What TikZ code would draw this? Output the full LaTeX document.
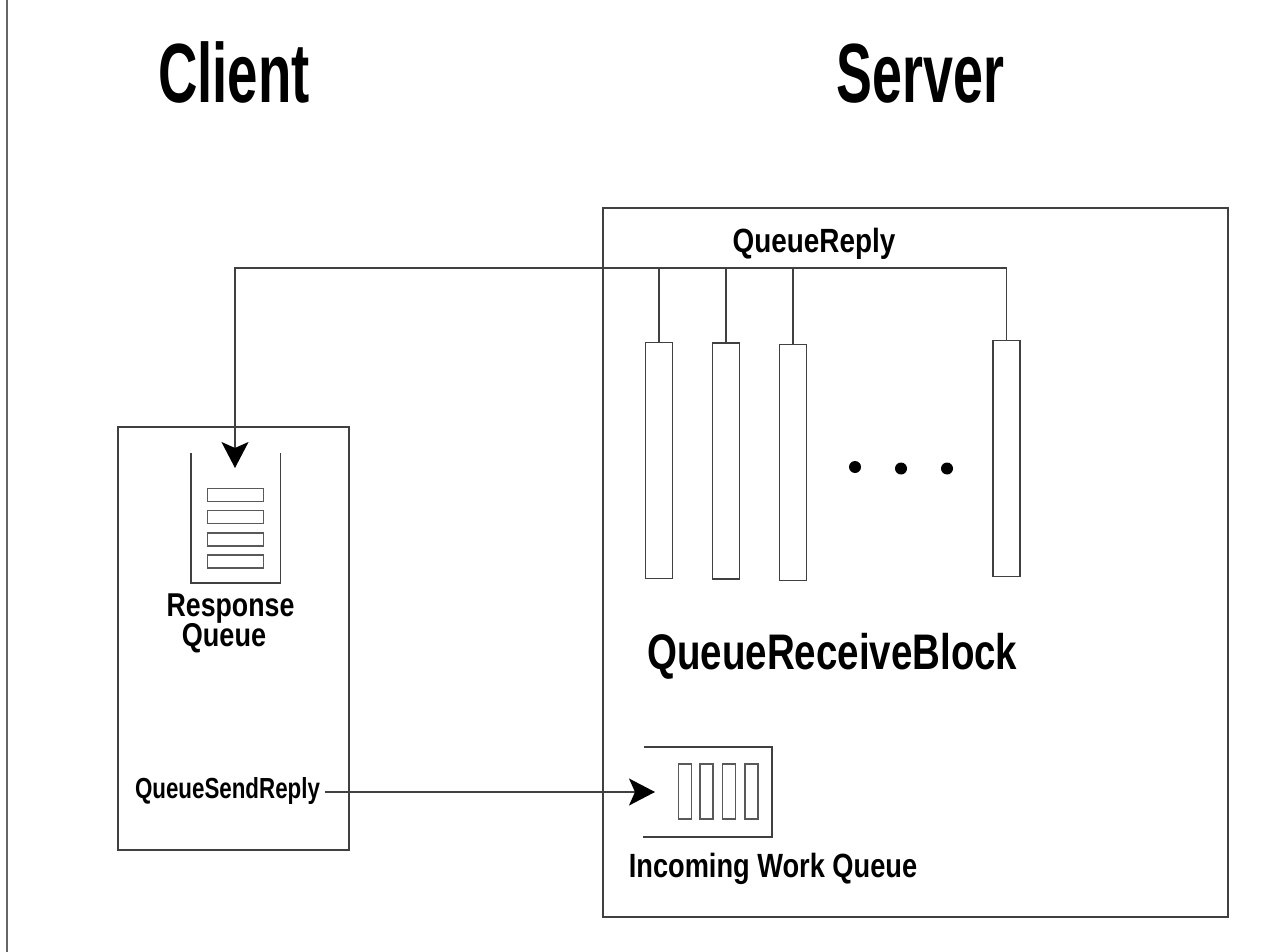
\documentclass[tikz,border=0pt]{standalone}
\usepackage{fontspec}
\setmainfont{Liberation Sans}
\usepackage{graphicx}
\usetikzlibrary{arrows.meta}
\newcommand{\lbl}[3]{\scalebox{#2}[1]{\fontsize{#1}{#1}\selectfont\bfseries #3}}
\tikzset{
  ln/.style={draw=black!75, line width=0.75pt},
  box/.style={ln, rectangle, inner sep=0pt},
  bar/.style={box, minimum width=13.5pt, minimum height=118pt},
  hslot/.style={draw=black!65, line width=0.6pt, rectangle, inner sep=0pt, minimum width=27.8pt, minimum height=6.5pt},
  vslot/.style={draw=black!65, line width=0.6pt, rectangle, inner sep=0pt, minimum width=6.5pt, minimum height=27.5pt},
  txt/.style={inner sep=0pt, anchor=base, text=black},
  arr/.style={ln, -{Stealth[length=13pt,width=13.5pt,inset=3pt,color=black]}},
  dotnode/.style={circle, fill=black, inner sep=0pt, minimum size=6pt},
}
\begin{document}
\begin{tikzpicture}[x=0.5pt,y=-0.5pt]
\useasboundingbox (0,0) rectangle (1275,952);
\draw[draw=black!60, line width=1pt] (7,0) -- (7,952);

% titles
\node[txt] (tclient) at (234,103) {\lbl{42}{0.65}{Client}};
\node[txt] (tserver) at (920.5,103) {\lbl{42}{0.64}{Server}};

% boxes
\node[box, minimum width=115.5pt, minimum height=211.5pt] (client) at (233.5,638.5) {};
\node[box, minimum width=312.5pt, minimum height=354.5pt] (server) at (915.5,562.5) {};

% receive bars
\node[bar] (b1) at (658.8,460.5) {};
\node[bar] (b2) at (726,461) {};
\node[bar] (b3) at (793,462.5) {};
\node[bar] (b4) at (1006.7,458.7) {};
\node[dotnode] (d1) at (855,467) {};
\node[dotnode] (d2) at (901,468.5) {};
\node[dotnode] (d3) at (947,468.5) {};

% QueueReply connector
\node[txt] (qreply) at (814,253) {\lbl{16.8}{0.83}{QueueReply}};
\coordinate (j) at (235,268);
\coordinate (rqin) at (235,468);
\draw[arr] (b4.north) |- (j) -- (rqin);
\foreach \b in {b1,b2,b3} \draw[ln] (\b.north) -- (\b.north |- j);

% response queue
\coordinate (rqtl) at (191,453);
\coordinate (rqtr) at (280.5,453);
\draw[ln] (rqtl) -- (191,583) -- (280.5,583) -- (rqtr);
\node[hslot] (r1) at (235.5,495) {};
\node[hslot] (r2) at (235.5,517) {};
\node[hslot] (r3) at (235.5,539.5) {};
\node[hslot] (r4) at (235.5,561.5) {};
\node[txt] (resp) at (230.5,616) {\lbl{16.5}{0.81}{Response}};
\node[txt] (respq) at (224,646) {\lbl{16.5}{0.82}{Queue}};

% QueueReceiveBlock
\node[txt] (qrb) at (832.3,669) {\lbl{25}{0.77}{QueueReceiveBlock}};

% incoming work queue
\coordinate (iwqin) at (655,792);
\draw[ln] (644,747) -- (772,747) -- (772,837) -- (643,837);
\node[vslot] (w1) at (684.7,791.5) {};
\node[vslot] (w2) at (706.5,791.5) {};
\node[vslot] (w3) at (729,791.5) {};
\node[vslot] (w4) at (751.5,791.5) {};
\node[txt] (iwq) at (773,877) {\lbl{16.8}{0.81}{Incoming Work Queue}};

% QueueSendReply
\node[txt] (qsr) at (227.5,798) {\lbl{14.5}{0.77}{QueueSendReply}};
\draw[arr] ([xshift=2.5pt]qsr.east |- iwqin) -- (iwqin);
\end{tikzpicture}
\end{document}
